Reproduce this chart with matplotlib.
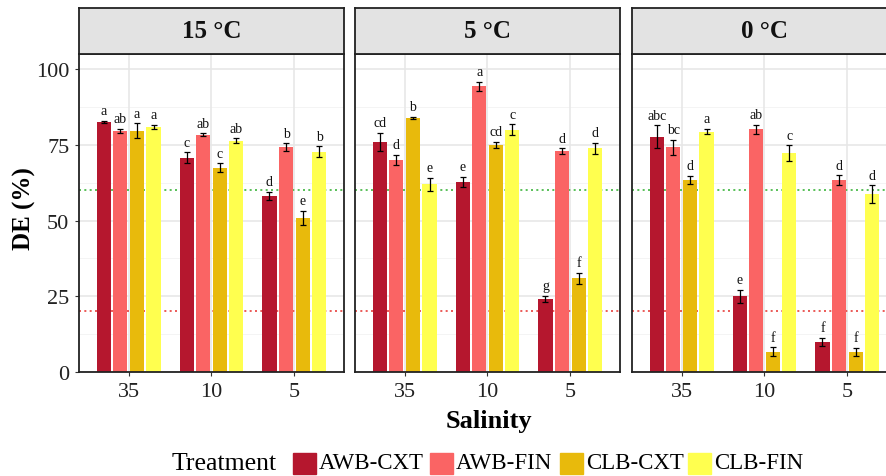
import matplotlib
matplotlib.use('Agg')
import matplotlib.pyplot as plt
from matplotlib.patches import Rectangle

# ---------------- data ----------------
temps = ['15 °C', '5 °C', '0 °C']
salinity = ['35', '10', '5']
treatments = ['AWB-CXT', 'AWB-FIN', 'CLB-CXT', 'CLB-FIN']
colors = ['#B5172E', '#FA6464', '#E8BA0C', '#FFFF4F']

# rows = salinity (35, 10, 5), columns = treatments
mean_15 = [[82.6, 79.6, 79.6, 81.0], [70.7, 78.4, 67.4, 76.3], [58.2, 74.2, 50.9, 72.8]]
err_15 = [[0.4, 0.6, 2.5, 0.7], [1.8, 0.4, 1.5, 0.8], [1.3, 1.3, 2.4, 1.7]]
let_15 = [['a', 'ab', 'a', 'a'], ['c', 'ab', 'c', 'ab'], ['d', 'b', 'e', 'b']]

mean_5 = [[76.0, 70.1, 83.9, 62.0], [62.8, 94.3, 75.0, 80.0], [24.1, 73.0, 31.0, 73.8]]
err_5 = [[3.0, 1.7, 0.4, 2.2], [1.6, 1.5, 1.0, 1.8], [1.0, 0.9, 1.8, 1.8]]
let_5 = [['cd', 'd', 'b', 'e'], ['e', 'a', 'cd', 'c'], ['g', 'd', 'f', 'd']]

mean_0 = [[77.7, 74.2, 63.4, 79.4], [25.0, 80.2, 6.7, 72.3], [10.0, 63.4, 6.7, 58.7]]
err_0 = [[3.8, 2.5, 1.3, 0.8], [2.2, 1.5, 1.5, 2.5], [1.3, 1.6, 1.3, 3.0]]
let_0 = [['abc', 'bc', 'd', 'a'], ['e', 'ab', 'f', 'c'], ['f', 'd', 'f', 'd']]

ref_high = 60
ref_low = 20
yticks = [0, 25, 50, 75, 100]

panels = [(mean_15, err_15, let_15), (mean_5, err_5, let_5), (mean_0, err_0, let_0)]

# ---------------- figure ----------------
plt.rcParams['font.family'] = ['Liberation Serif', 'DejaVu Serif']
W, H = 887, 477
fig = plt.figure(figsize=(W / 100, H / 100), dpi=100)

def fx(px):
    return px / W

def fy(py):
    return 1 - py / H

panel_left = [79, 355, 632]
panel_w = 265
panel_top, panel_bot = 55, 373
strip_top = 9

pitch = 0.2
bw = 0.17

for k, (means, errs, lets) in enumerate(panels):
    ax = fig.add_axes([fx(panel_left[k]), fy(panel_bot), fx(panel_w), (panel_bot - panel_top) / H])
    ax.set_xlim(0.4, 3.6)
    ax.set_ylim(0, 105)
    ax.set_facecolor('white')
    # grid
    for yv in [12.5, 37.5, 62.5, 87.5]:
        ax.axhline(yv, color='#F2F2F2', lw=0.6, zorder=0)
    for yv in yticks:
        ax.axhline(yv, color='#E6E6E6', lw=1.1, zorder=0)
    for i in range(len(salinity)):
        ax.axvline(i + 1, color='#E6E6E6', lw=1.1, zorder=0)
    # reference lines
    ax.axhline(ref_high, color='#3DB53D', lw=1.2, ls=(0, (1.2, 2.0)), zorder=1)
    ax.axhline(ref_low, color='#E8403C', lw=1.2, ls=(0, (1.2, 2.0)), zorder=1)
    for i in range(len(salinity)):
        for j, tr in enumerate(treatments):
            x = i + 1 + (j - 1.5) * pitch
            m = means[i][j]
            e = errs[i][j]
            ax.bar(x, m, width=bw, color=colors[j], zorder=2)
            ax.errorbar(x, m, yerr=e, fmt='none', ecolor='black', elinewidth=0.9,
                        capsize=2.2, capthick=0.9, zorder=3)
            ax.text(x, m + e + 1.2, lets[i][j], ha='center', va='bottom',
                    fontsize=10, color='#111111', zorder=4)
    ax.set_xticks(range(1, len(salinity) + 1))
    ax.set_xticklabels(salinity)
    ax.set_yticks(yticks)
    ax.tick_params(axis='both', length=3, width=0.8, color='#333333',
                   labelsize=16, labelcolor='#222222', pad=4)
    ax.tick_params(axis='x', pad=4)
    if k > 0:
        ax.set_yticklabels([])
        ax.tick_params(axis='y', length=0)
    for sp in ax.spines.values():
        sp.set_color('#222222')
        sp.set_linewidth(1.3)
    ax.spines['left'].set_zorder(5)
    # strip
    sax = fig.add_axes([fx(panel_left[k]), fy(panel_top), fx(panel_w), (panel_top - strip_top) / H])
    sax.set_facecolor('#E3E3E3')
    sax.set_xticks([])
    sax.set_yticks([])
    for sp in sax.spines.values():
        sp.set_color('#222222')
        sp.set_linewidth(1.3)
    sax.text(0.5, 0.5, temps[k], transform=sax.transAxes, ha='center', va='center',
             fontsize=18, fontweight='bold', color='#111111')

# axis titles
fig.text(fx(24), fy(209), 'DE (%)', rotation=90, ha='center', va='center',
         fontsize=18, fontweight='bold')
fig.text(fx(489), fy(422), 'Salinity', ha='center', va='center',
         fontsize=19, fontweight='bold')

# legend
ly = fy(464)
fig.text(fx(172), ly, 'Treatment', ha='left', va='center', fontsize=18.5)
key_x = [293, 430, 560, 688]
for j, tr in enumerate(treatments):
    fig.patches.append(Rectangle((fx(key_x[j]), fy(475)), fx(23), 21 / H,
                                 transform=fig.transFigure, color=colors[j]))
    fig.text(fx(key_x[j] + 26), ly, tr, ha='left', va='center', fontsize=16.5)

fig.savefig('out.png', dpi=100)
